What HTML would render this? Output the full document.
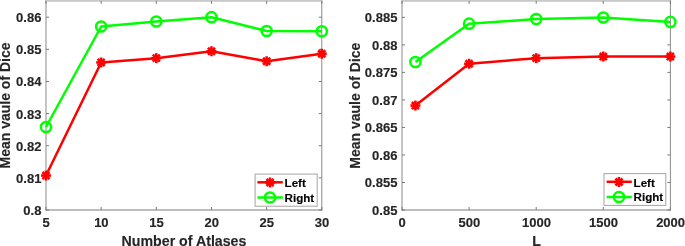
<!DOCTYPE html>
<html><head><meta charset="utf-8"><style>html,body{margin:0;padding:0;background:#fff;width:685px;height:246px;overflow:hidden}svg{display:block}</style></head>
<body><svg width="685" height="246" viewBox="0 0 685 246"><g style="filter:opacity(1)"><line x1="46.0" y1="0" x2="46.0" y2="210.5" stroke="#8a8a8a" stroke-width="1"/><line x1="321.8" y1="0" x2="321.8" y2="210.5" stroke="#8a8a8a" stroke-width="1"/><line x1="45.5" y1="210.0" x2="322.3" y2="210.0" stroke="#7a7a7a" stroke-width="1"/><rect x="46" y="0" width="276" height="1.8" fill="#c9c9c9"/><line x1="46.00" y1="210.0" x2="46.00" y2="207.0" stroke="#7a7a7a" stroke-width="1"/><line x1="46.00" y1="0.9" x2="46.00" y2="3.9" stroke="#7a7a7a" stroke-width="1"/><line x1="101.16" y1="210.0" x2="101.16" y2="207.0" stroke="#7a7a7a" stroke-width="1"/><line x1="101.16" y1="0.9" x2="101.16" y2="3.9" stroke="#7a7a7a" stroke-width="1"/><line x1="156.32" y1="210.0" x2="156.32" y2="207.0" stroke="#7a7a7a" stroke-width="1"/><line x1="156.32" y1="0.9" x2="156.32" y2="3.9" stroke="#7a7a7a" stroke-width="1"/><line x1="211.48" y1="210.0" x2="211.48" y2="207.0" stroke="#7a7a7a" stroke-width="1"/><line x1="211.48" y1="0.9" x2="211.48" y2="3.9" stroke="#7a7a7a" stroke-width="1"/><line x1="266.64" y1="210.0" x2="266.64" y2="207.0" stroke="#7a7a7a" stroke-width="1"/><line x1="266.64" y1="0.9" x2="266.64" y2="3.9" stroke="#7a7a7a" stroke-width="1"/><line x1="321.80" y1="210.0" x2="321.80" y2="207.0" stroke="#7a7a7a" stroke-width="1"/><line x1="321.80" y1="0.9" x2="321.80" y2="3.9" stroke="#7a7a7a" stroke-width="1"/><line x1="46.0" y1="210.00" x2="49.0" y2="210.00" stroke="#7a7a7a" stroke-width="1"/><line x1="321.8" y1="210.00" x2="318.8" y2="210.00" stroke="#7a7a7a" stroke-width="1"/><line x1="46.0" y1="177.87" x2="49.0" y2="177.87" stroke="#7a7a7a" stroke-width="1"/><line x1="321.8" y1="177.87" x2="318.8" y2="177.87" stroke="#7a7a7a" stroke-width="1"/><line x1="46.0" y1="145.73" x2="49.0" y2="145.73" stroke="#7a7a7a" stroke-width="1"/><line x1="321.8" y1="145.73" x2="318.8" y2="145.73" stroke="#7a7a7a" stroke-width="1"/><line x1="46.0" y1="113.60" x2="49.0" y2="113.60" stroke="#7a7a7a" stroke-width="1"/><line x1="321.8" y1="113.60" x2="318.8" y2="113.60" stroke="#7a7a7a" stroke-width="1"/><line x1="46.0" y1="81.47" x2="49.0" y2="81.47" stroke="#7a7a7a" stroke-width="1"/><line x1="321.8" y1="81.47" x2="318.8" y2="81.47" stroke="#7a7a7a" stroke-width="1"/><line x1="46.0" y1="49.33" x2="49.0" y2="49.33" stroke="#7a7a7a" stroke-width="1"/><line x1="321.8" y1="49.33" x2="318.8" y2="49.33" stroke="#7a7a7a" stroke-width="1"/><line x1="46.0" y1="17.20" x2="49.0" y2="17.20" stroke="#7a7a7a" stroke-width="1"/><line x1="321.8" y1="17.20" x2="318.8" y2="17.20" stroke="#7a7a7a" stroke-width="1"/><text x="46.20" y="227.3" text-anchor="middle" font-family="Liberation Sans, sans-serif" font-weight="bold" stroke="currentColor" stroke-width="0.15" font-size="13" fill="#262626" color="#262626">5</text><text x="101.36" y="227.3" text-anchor="middle" font-family="Liberation Sans, sans-serif" font-weight="bold" stroke="currentColor" stroke-width="0.15" font-size="13" fill="#262626" color="#262626">10</text><text x="156.52" y="227.3" text-anchor="middle" font-family="Liberation Sans, sans-serif" font-weight="bold" stroke="currentColor" stroke-width="0.15" font-size="13" fill="#262626" color="#262626">15</text><text x="211.68" y="227.3" text-anchor="middle" font-family="Liberation Sans, sans-serif" font-weight="bold" stroke="currentColor" stroke-width="0.15" font-size="13" fill="#262626" color="#262626">20</text><text x="266.84" y="227.3" text-anchor="middle" font-family="Liberation Sans, sans-serif" font-weight="bold" stroke="currentColor" stroke-width="0.15" font-size="13" fill="#262626" color="#262626">25</text><text x="322.00" y="227.3" text-anchor="middle" font-family="Liberation Sans, sans-serif" font-weight="bold" stroke="currentColor" stroke-width="0.15" font-size="13" fill="#262626" color="#262626">30</text><text x="41.40" y="215.00" text-anchor="end" font-family="Liberation Sans, sans-serif" font-weight="bold" stroke="currentColor" stroke-width="0.15" font-size="13" fill="#262626" color="#262626">0.8</text><text x="41.40" y="182.87" text-anchor="end" font-family="Liberation Sans, sans-serif" font-weight="bold" stroke="currentColor" stroke-width="0.15" font-size="13" fill="#262626" color="#262626">0.81</text><text x="41.40" y="150.73" text-anchor="end" font-family="Liberation Sans, sans-serif" font-weight="bold" stroke="currentColor" stroke-width="0.15" font-size="13" fill="#262626" color="#262626">0.82</text><text x="41.40" y="118.60" text-anchor="end" font-family="Liberation Sans, sans-serif" font-weight="bold" stroke="currentColor" stroke-width="0.15" font-size="13" fill="#262626" color="#262626">0.83</text><text x="41.40" y="86.47" text-anchor="end" font-family="Liberation Sans, sans-serif" font-weight="bold" stroke="currentColor" stroke-width="0.15" font-size="13" fill="#262626" color="#262626">0.84</text><text x="41.40" y="54.33" text-anchor="end" font-family="Liberation Sans, sans-serif" font-weight="bold" stroke="currentColor" stroke-width="0.15" font-size="13" fill="#262626" color="#262626">0.85</text><text x="41.40" y="22.20" text-anchor="end" font-family="Liberation Sans, sans-serif" font-weight="bold" stroke="currentColor" stroke-width="0.15" font-size="13" fill="#262626" color="#262626">0.86</text><polyline points="46.00,127.00 101.16,26.50 156.32,21.50 211.48,17.20 266.64,31.00 321.80,31.30" fill="none" stroke="#00ff00" stroke-width="2.5" stroke-linejoin="round"/><polyline points="46.00,175.55 101.16,62.45 156.32,58.15 211.48,51.25 266.64,61.25 321.80,53.75" fill="none" stroke="#ff0000" stroke-width="2.5" stroke-linejoin="round"/><circle cx="46.00" cy="127.00" r="5.1" fill="none" stroke="#00ff00" stroke-width="2.5"/><circle cx="101.16" cy="26.50" r="5.1" fill="none" stroke="#00ff00" stroke-width="2.5"/><circle cx="156.32" cy="21.50" r="5.1" fill="none" stroke="#00ff00" stroke-width="2.5"/><circle cx="211.48" cy="17.20" r="5.1" fill="none" stroke="#00ff00" stroke-width="2.5"/><circle cx="266.64" cy="31.00" r="5.1" fill="none" stroke="#00ff00" stroke-width="2.5"/><circle cx="321.80" cy="31.30" r="5.1" fill="none" stroke="#00ff00" stroke-width="2.5"/><line x1="41.00" y1="175.55" x2="51.00" y2="175.55" stroke="#ff0000" stroke-width="2.6"/><line x1="42.46" y1="172.01" x2="49.54" y2="179.09" stroke="#ff0000" stroke-width="2.6"/><line x1="46.00" y1="170.55" x2="46.00" y2="180.55" stroke="#ff0000" stroke-width="2.6"/><line x1="49.54" y1="172.01" x2="42.46" y2="179.09" stroke="#ff0000" stroke-width="2.6"/><line x1="96.16" y1="62.45" x2="106.16" y2="62.45" stroke="#ff0000" stroke-width="2.6"/><line x1="97.62" y1="58.91" x2="104.70" y2="65.99" stroke="#ff0000" stroke-width="2.6"/><line x1="101.16" y1="57.45" x2="101.16" y2="67.45" stroke="#ff0000" stroke-width="2.6"/><line x1="104.70" y1="58.91" x2="97.62" y2="65.99" stroke="#ff0000" stroke-width="2.6"/><line x1="151.32" y1="58.15" x2="161.32" y2="58.15" stroke="#ff0000" stroke-width="2.6"/><line x1="152.78" y1="54.61" x2="159.86" y2="61.69" stroke="#ff0000" stroke-width="2.6"/><line x1="156.32" y1="53.15" x2="156.32" y2="63.15" stroke="#ff0000" stroke-width="2.6"/><line x1="159.86" y1="54.61" x2="152.78" y2="61.69" stroke="#ff0000" stroke-width="2.6"/><line x1="206.48" y1="51.25" x2="216.48" y2="51.25" stroke="#ff0000" stroke-width="2.6"/><line x1="207.94" y1="47.71" x2="215.02" y2="54.79" stroke="#ff0000" stroke-width="2.6"/><line x1="211.48" y1="46.25" x2="211.48" y2="56.25" stroke="#ff0000" stroke-width="2.6"/><line x1="215.02" y1="47.71" x2="207.94" y2="54.79" stroke="#ff0000" stroke-width="2.6"/><line x1="261.64" y1="61.25" x2="271.64" y2="61.25" stroke="#ff0000" stroke-width="2.6"/><line x1="263.10" y1="57.71" x2="270.18" y2="64.79" stroke="#ff0000" stroke-width="2.6"/><line x1="266.64" y1="56.25" x2="266.64" y2="66.25" stroke="#ff0000" stroke-width="2.6"/><line x1="270.18" y1="57.71" x2="263.10" y2="64.79" stroke="#ff0000" stroke-width="2.6"/><line x1="316.80" y1="53.75" x2="326.80" y2="53.75" stroke="#ff0000" stroke-width="2.6"/><line x1="318.26" y1="50.21" x2="325.34" y2="57.29" stroke="#ff0000" stroke-width="2.6"/><line x1="321.80" y1="48.75" x2="321.80" y2="58.75" stroke="#ff0000" stroke-width="2.6"/><line x1="325.34" y1="50.21" x2="318.26" y2="57.29" stroke="#ff0000" stroke-width="2.6"/><line x1="402.0" y1="0" x2="402.0" y2="210.5" stroke="#8a8a8a" stroke-width="1"/><line x1="670.4" y1="0" x2="670.4" y2="210.5" stroke="#8a8a8a" stroke-width="1"/><line x1="401.5" y1="210.0" x2="670.9" y2="210.0" stroke="#7a7a7a" stroke-width="1"/><rect x="402" y="0" width="268.4" height="1.8" fill="#c9c9c9"/><line x1="402.00" y1="210.0" x2="402.00" y2="207.0" stroke="#7a7a7a" stroke-width="1"/><line x1="402.00" y1="0.9" x2="402.00" y2="3.9" stroke="#7a7a7a" stroke-width="1"/><line x1="469.10" y1="210.0" x2="469.10" y2="207.0" stroke="#7a7a7a" stroke-width="1"/><line x1="469.10" y1="0.9" x2="469.10" y2="3.9" stroke="#7a7a7a" stroke-width="1"/><line x1="536.20" y1="210.0" x2="536.20" y2="207.0" stroke="#7a7a7a" stroke-width="1"/><line x1="536.20" y1="0.9" x2="536.20" y2="3.9" stroke="#7a7a7a" stroke-width="1"/><line x1="603.30" y1="210.0" x2="603.30" y2="207.0" stroke="#7a7a7a" stroke-width="1"/><line x1="603.30" y1="0.9" x2="603.30" y2="3.9" stroke="#7a7a7a" stroke-width="1"/><line x1="670.40" y1="210.0" x2="670.40" y2="207.0" stroke="#7a7a7a" stroke-width="1"/><line x1="670.40" y1="0.9" x2="670.40" y2="3.9" stroke="#7a7a7a" stroke-width="1"/><line x1="402.0" y1="210.00" x2="405.0" y2="210.00" stroke="#7a7a7a" stroke-width="1"/><line x1="670.4" y1="210.00" x2="667.4" y2="210.00" stroke="#7a7a7a" stroke-width="1"/><line x1="402.0" y1="182.48" x2="405.0" y2="182.48" stroke="#7a7a7a" stroke-width="1"/><line x1="670.4" y1="182.48" x2="667.4" y2="182.48" stroke="#7a7a7a" stroke-width="1"/><line x1="402.0" y1="154.96" x2="405.0" y2="154.96" stroke="#7a7a7a" stroke-width="1"/><line x1="670.4" y1="154.96" x2="667.4" y2="154.96" stroke="#7a7a7a" stroke-width="1"/><line x1="402.0" y1="127.44" x2="405.0" y2="127.44" stroke="#7a7a7a" stroke-width="1"/><line x1="670.4" y1="127.44" x2="667.4" y2="127.44" stroke="#7a7a7a" stroke-width="1"/><line x1="402.0" y1="99.91" x2="405.0" y2="99.91" stroke="#7a7a7a" stroke-width="1"/><line x1="670.4" y1="99.91" x2="667.4" y2="99.91" stroke="#7a7a7a" stroke-width="1"/><line x1="402.0" y1="72.39" x2="405.0" y2="72.39" stroke="#7a7a7a" stroke-width="1"/><line x1="670.4" y1="72.39" x2="667.4" y2="72.39" stroke="#7a7a7a" stroke-width="1"/><line x1="402.0" y1="44.87" x2="405.0" y2="44.87" stroke="#7a7a7a" stroke-width="1"/><line x1="670.4" y1="44.87" x2="667.4" y2="44.87" stroke="#7a7a7a" stroke-width="1"/><line x1="402.0" y1="17.35" x2="405.0" y2="17.35" stroke="#7a7a7a" stroke-width="1"/><line x1="670.4" y1="17.35" x2="667.4" y2="17.35" stroke="#7a7a7a" stroke-width="1"/><text x="402.20" y="227.3" text-anchor="middle" font-family="Liberation Sans, sans-serif" font-weight="bold" stroke="currentColor" stroke-width="0.15" font-size="13" fill="#262626" color="#262626">0</text><text x="469.30" y="227.3" text-anchor="middle" font-family="Liberation Sans, sans-serif" font-weight="bold" stroke="currentColor" stroke-width="0.15" font-size="13" fill="#262626" color="#262626">500</text><text x="536.40" y="227.3" text-anchor="middle" font-family="Liberation Sans, sans-serif" font-weight="bold" stroke="currentColor" stroke-width="0.15" font-size="13" fill="#262626" color="#262626">1000</text><text x="603.50" y="227.3" text-anchor="middle" font-family="Liberation Sans, sans-serif" font-weight="bold" stroke="currentColor" stroke-width="0.15" font-size="13" fill="#262626" color="#262626">1500</text><text x="670.60" y="227.3" text-anchor="middle" font-family="Liberation Sans, sans-serif" font-weight="bold" stroke="currentColor" stroke-width="0.15" font-size="13" fill="#262626" color="#262626">2000</text><text x="397.40" y="215.00" text-anchor="end" font-family="Liberation Sans, sans-serif" font-weight="bold" stroke="currentColor" stroke-width="0.15" font-size="13" fill="#262626" color="#262626">0.85</text><text x="397.40" y="187.48" text-anchor="end" font-family="Liberation Sans, sans-serif" font-weight="bold" stroke="currentColor" stroke-width="0.15" font-size="13" fill="#262626" color="#262626">0.855</text><text x="397.40" y="159.96" text-anchor="end" font-family="Liberation Sans, sans-serif" font-weight="bold" stroke="currentColor" stroke-width="0.15" font-size="13" fill="#262626" color="#262626">0.86</text><text x="397.40" y="132.44" text-anchor="end" font-family="Liberation Sans, sans-serif" font-weight="bold" stroke="currentColor" stroke-width="0.15" font-size="13" fill="#262626" color="#262626">0.865</text><text x="397.40" y="104.91" text-anchor="end" font-family="Liberation Sans, sans-serif" font-weight="bold" stroke="currentColor" stroke-width="0.15" font-size="13" fill="#262626" color="#262626">0.87</text><text x="397.40" y="77.39" text-anchor="end" font-family="Liberation Sans, sans-serif" font-weight="bold" stroke="currentColor" stroke-width="0.15" font-size="13" fill="#262626" color="#262626">0.875</text><text x="397.40" y="49.87" text-anchor="end" font-family="Liberation Sans, sans-serif" font-weight="bold" stroke="currentColor" stroke-width="0.15" font-size="13" fill="#262626" color="#262626">0.88</text><text x="397.40" y="22.35" text-anchor="end" font-family="Liberation Sans, sans-serif" font-weight="bold" stroke="currentColor" stroke-width="0.15" font-size="13" fill="#262626" color="#262626">0.885</text><polyline points="415.42,62.00 469.10,23.70 536.20,19.10 603.30,17.50 670.40,21.90" fill="none" stroke="#00ff00" stroke-width="2.5" stroke-linejoin="round"/><polyline points="415.42,105.55 469.10,63.75 536.20,58.15 603.30,56.55 670.40,56.55" fill="none" stroke="#ff0000" stroke-width="2.5" stroke-linejoin="round"/><circle cx="415.42" cy="62.00" r="5.1" fill="none" stroke="#00ff00" stroke-width="2.5"/><circle cx="469.10" cy="23.70" r="5.1" fill="none" stroke="#00ff00" stroke-width="2.5"/><circle cx="536.20" cy="19.10" r="5.1" fill="none" stroke="#00ff00" stroke-width="2.5"/><circle cx="603.30" cy="17.50" r="5.1" fill="none" stroke="#00ff00" stroke-width="2.5"/><circle cx="670.40" cy="21.90" r="5.1" fill="none" stroke="#00ff00" stroke-width="2.5"/><line x1="410.42" y1="105.55" x2="420.42" y2="105.55" stroke="#ff0000" stroke-width="2.6"/><line x1="411.88" y1="102.01" x2="418.96" y2="109.09" stroke="#ff0000" stroke-width="2.6"/><line x1="415.42" y1="100.55" x2="415.42" y2="110.55" stroke="#ff0000" stroke-width="2.6"/><line x1="418.96" y1="102.01" x2="411.88" y2="109.09" stroke="#ff0000" stroke-width="2.6"/><line x1="464.10" y1="63.75" x2="474.10" y2="63.75" stroke="#ff0000" stroke-width="2.6"/><line x1="465.56" y1="60.21" x2="472.64" y2="67.29" stroke="#ff0000" stroke-width="2.6"/><line x1="469.10" y1="58.75" x2="469.10" y2="68.75" stroke="#ff0000" stroke-width="2.6"/><line x1="472.64" y1="60.21" x2="465.56" y2="67.29" stroke="#ff0000" stroke-width="2.6"/><line x1="531.20" y1="58.15" x2="541.20" y2="58.15" stroke="#ff0000" stroke-width="2.6"/><line x1="532.66" y1="54.61" x2="539.74" y2="61.69" stroke="#ff0000" stroke-width="2.6"/><line x1="536.20" y1="53.15" x2="536.20" y2="63.15" stroke="#ff0000" stroke-width="2.6"/><line x1="539.74" y1="54.61" x2="532.66" y2="61.69" stroke="#ff0000" stroke-width="2.6"/><line x1="598.30" y1="56.55" x2="608.30" y2="56.55" stroke="#ff0000" stroke-width="2.6"/><line x1="599.76" y1="53.01" x2="606.84" y2="60.09" stroke="#ff0000" stroke-width="2.6"/><line x1="603.30" y1="51.55" x2="603.30" y2="61.55" stroke="#ff0000" stroke-width="2.6"/><line x1="606.84" y1="53.01" x2="599.76" y2="60.09" stroke="#ff0000" stroke-width="2.6"/><line x1="665.40" y1="56.55" x2="675.40" y2="56.55" stroke="#ff0000" stroke-width="2.6"/><line x1="666.86" y1="53.01" x2="673.94" y2="60.09" stroke="#ff0000" stroke-width="2.6"/><line x1="670.40" y1="51.55" x2="670.40" y2="61.55" stroke="#ff0000" stroke-width="2.6"/><line x1="673.94" y1="53.01" x2="666.86" y2="60.09" stroke="#ff0000" stroke-width="2.6"/><rect x="255.1" y="174.1" width="62.10" height="32.10" fill="#fff" stroke="#a4a4a4" stroke-width="1"/><line x1="257.4" y1="182.3" x2="282.8" y2="182.3" stroke="#ff0000" stroke-width="2.5"/><line x1="265.00" y1="182.50" x2="275.00" y2="182.50" stroke="#ff0000" stroke-width="2.6"/><line x1="266.46" y1="178.96" x2="273.54" y2="186.04" stroke="#ff0000" stroke-width="2.6"/><line x1="270.00" y1="177.50" x2="270.00" y2="187.50" stroke="#ff0000" stroke-width="2.6"/><line x1="273.54" y1="178.96" x2="266.46" y2="186.04" stroke="#ff0000" stroke-width="2.6"/><line x1="257.4" y1="197.5" x2="282.8" y2="197.5" stroke="#00ff00" stroke-width="2.5"/><circle cx="270.00" cy="197.50" r="5.1" fill="none" stroke="#00ff00" stroke-width="2.5"/><text x="284.6" y="187.4" font-family="Liberation Sans, sans-serif" font-weight="bold" stroke="currentColor" stroke-width="0.15" font-size="11.6" fill="#000" color="#000">Left</text><text x="284.6" y="201.8" font-family="Liberation Sans, sans-serif" font-weight="bold" stroke="currentColor" stroke-width="0.15" font-size="11.6" fill="#000" color="#000">Right</text><rect x="604.0" y="173.6" width="61.80" height="31.80" fill="#fff" stroke="#a4a4a4" stroke-width="1"/><line x1="606.6" y1="181.8" x2="631.8" y2="181.8" stroke="#ff0000" stroke-width="2.5"/><line x1="614.00" y1="182.00" x2="624.00" y2="182.00" stroke="#ff0000" stroke-width="2.6"/><line x1="615.46" y1="178.46" x2="622.54" y2="185.54" stroke="#ff0000" stroke-width="2.6"/><line x1="619.00" y1="177.00" x2="619.00" y2="187.00" stroke="#ff0000" stroke-width="2.6"/><line x1="622.54" y1="178.46" x2="615.46" y2="185.54" stroke="#ff0000" stroke-width="2.6"/><line x1="606.6" y1="197.0" x2="631.8" y2="197.0" stroke="#00ff00" stroke-width="2.5"/><circle cx="619.00" cy="197.00" r="5.1" fill="none" stroke="#00ff00" stroke-width="2.5"/><text x="633.6" y="186.9" font-family="Liberation Sans, sans-serif" font-weight="bold" stroke="currentColor" stroke-width="0.15" font-size="11.6" fill="#000" color="#000">Left</text><text x="633.6" y="201.3" font-family="Liberation Sans, sans-serif" font-weight="bold" stroke="currentColor" stroke-width="0.15" font-size="11.6" fill="#000" color="#000">Right</text><text x="184" y="246.0" text-anchor="middle" font-family="Liberation Sans, sans-serif" font-weight="bold" stroke="currentColor" stroke-width="0.15" font-size="14.2" fill="#262626" color="#262626">Number of Atlases</text><text x="536.5" y="245.6" text-anchor="middle" font-family="Liberation Sans, sans-serif" font-weight="bold" stroke="currentColor" stroke-width="0.15" font-size="14.2" fill="#262626" color="#262626">L</text><text transform="translate(9.5,105.5) rotate(-90)" x="0" y="0" text-anchor="middle" font-family="Liberation Sans, sans-serif" font-weight="bold" stroke="currentColor" stroke-width="0.15" font-size="14" fill="#262626" color="#262626">Mean vaule of Dice</text><text transform="translate(359.7,105.7) rotate(-90)" x="0" y="0" text-anchor="middle" font-family="Liberation Sans, sans-serif" font-weight="bold" stroke="currentColor" stroke-width="0.15" font-size="14" fill="#262626" color="#262626">Mean vaule of Dice</text></g></svg></body></html>
